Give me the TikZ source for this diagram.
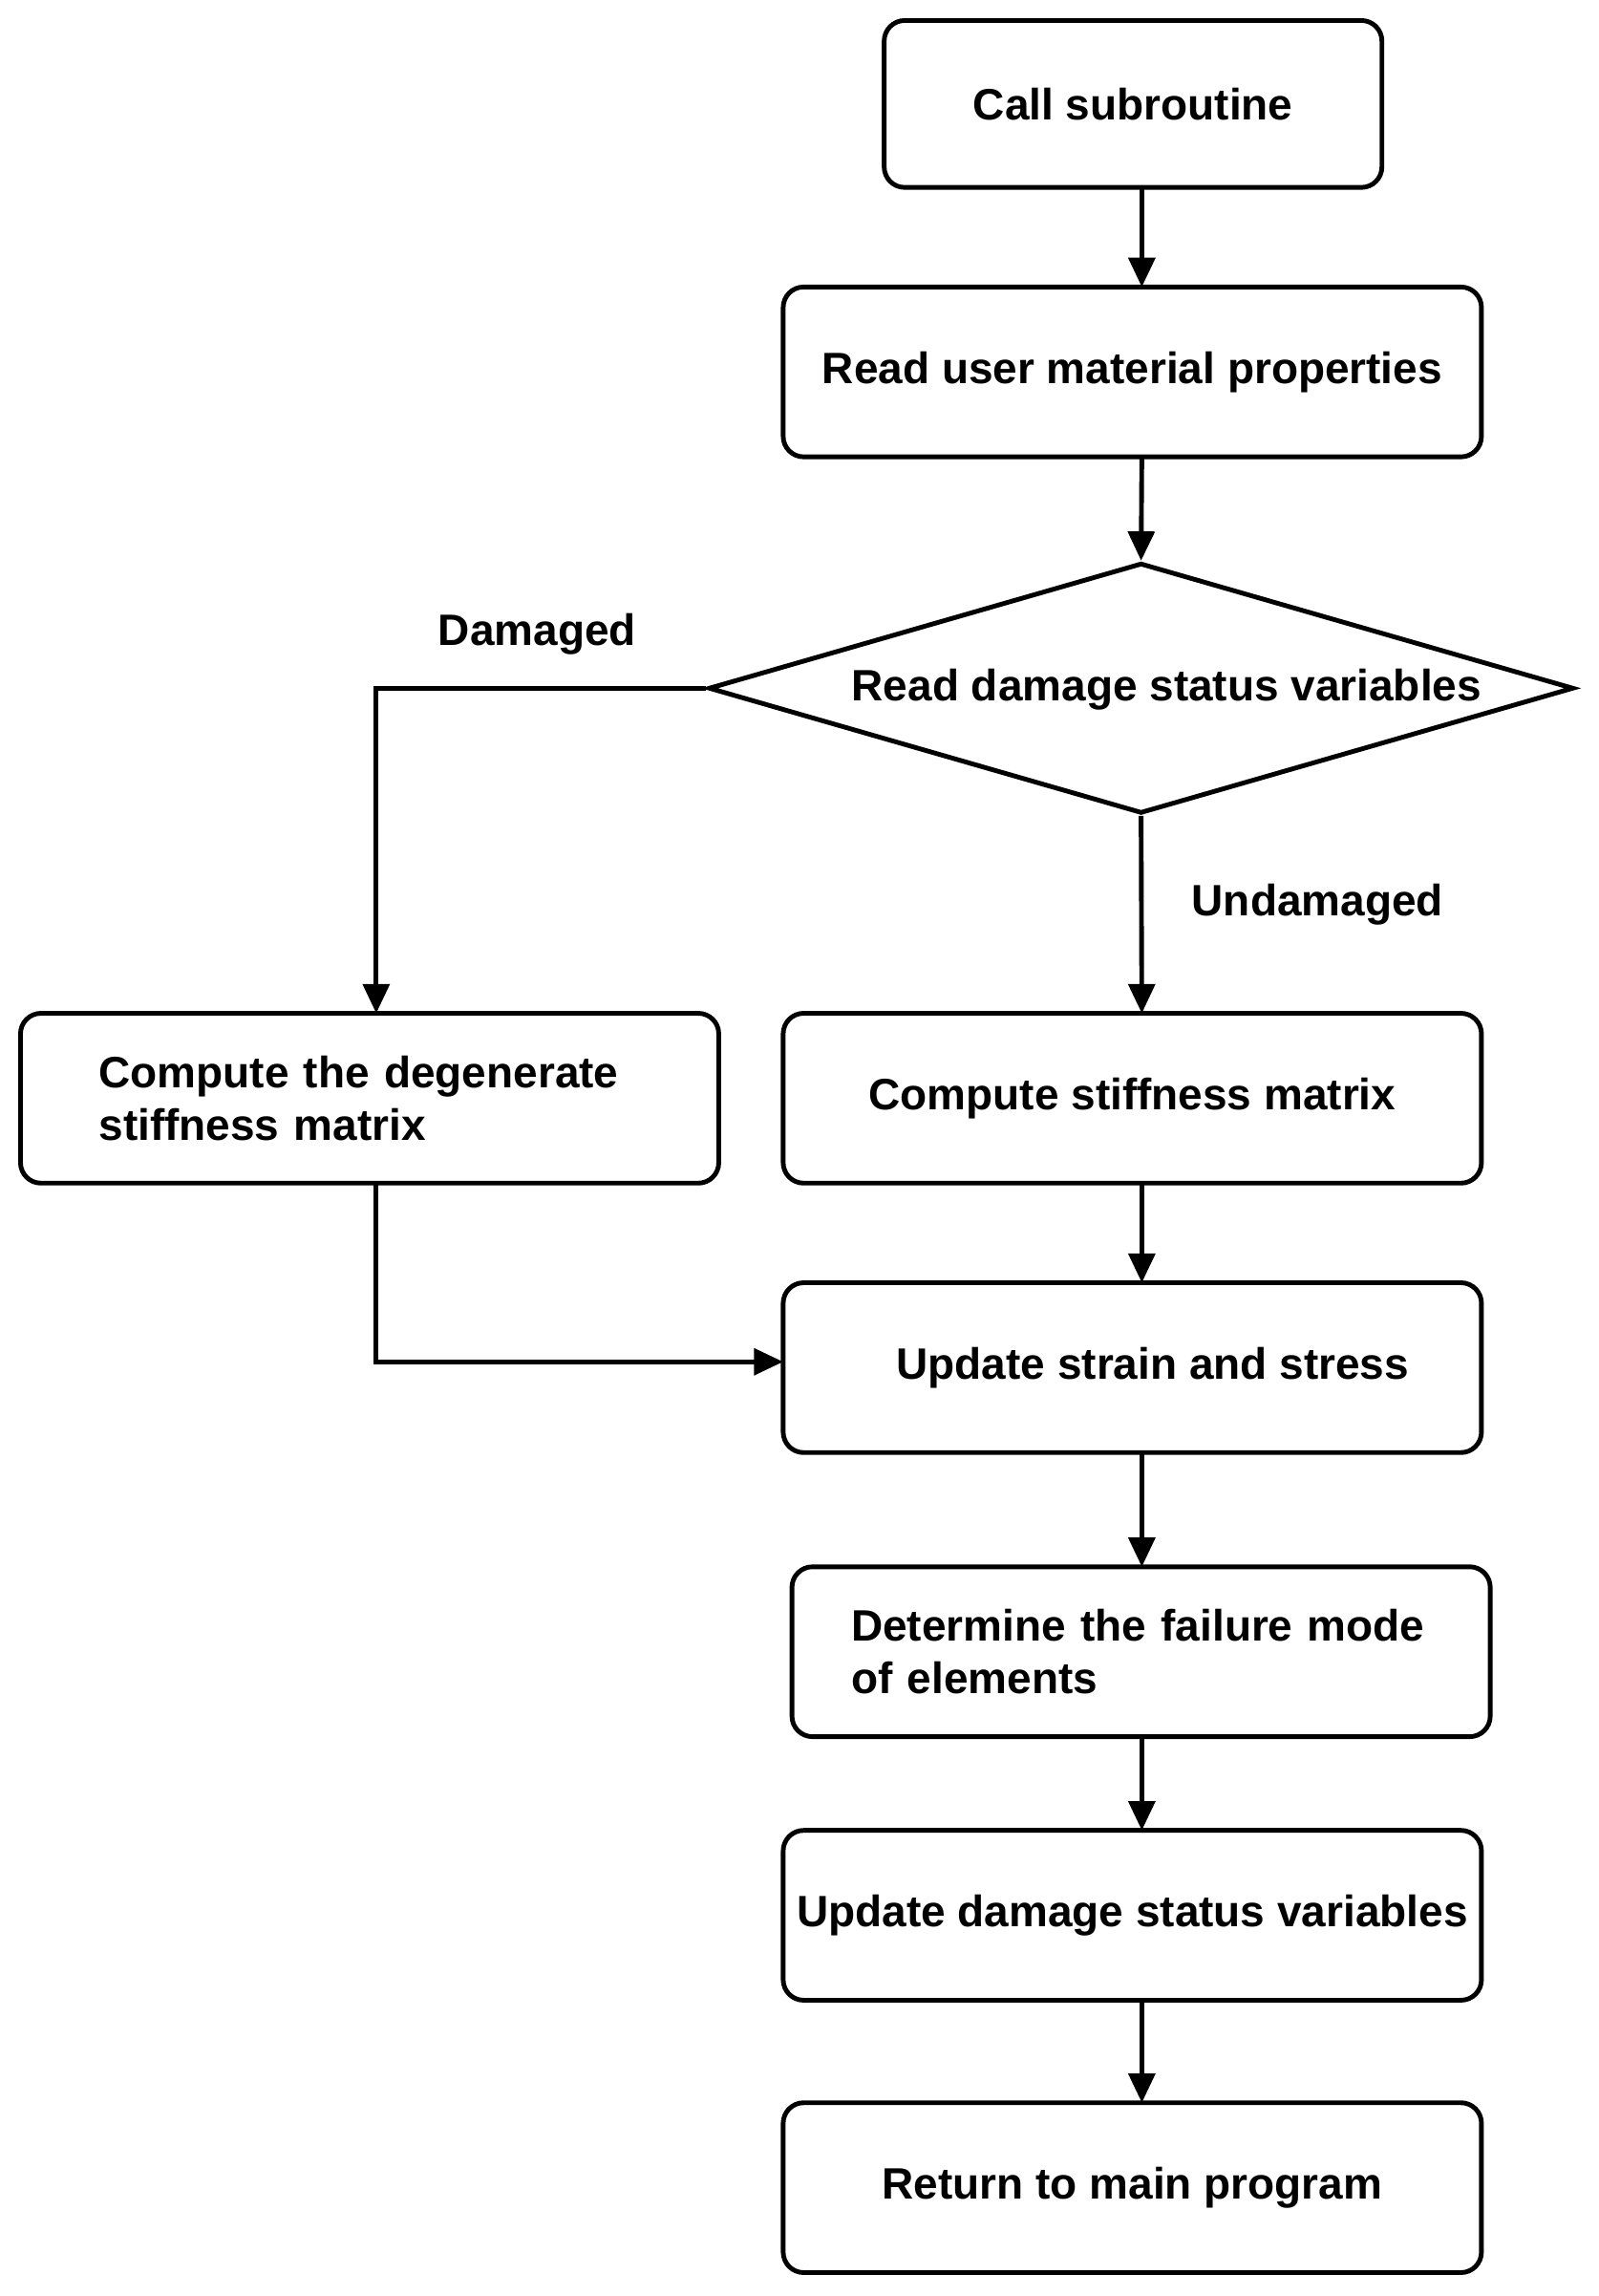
\documentclass[tikz,border=0pt]{standalone}
\usepackage{fontspec}
\setmainfont{Liberation Sans}
\usetikzlibrary{shapes.geometric,arrows.meta}
\begin{document}
\begin{tikzpicture}[x=1pt,y=-1pt,
  box/.style={draw,line width=3.2pt,rounded corners=14pt,font=\fontsize{30}{36}\selectfont\bfseries},
  arr/.style={line width=3.2pt,-{Triangle[length=20pt,width=18pt]}},
  lab/.style={font=\fontsize{30}{36}\selectfont\bfseries}]
\useasboundingbox (0,0) rectangle (1092,1568);
\node[box,minimum width=340pt,minimum height=114pt] (a) at (774,71) {Call subroutine};
\node[box,minimum width=477pt,minimum height=116pt,inner xsep=2pt] (b) at (773.5,254) {Read user material properties};
\node[draw,line width=3.2pt,diamond,aspect=3.45,minimum width=591pt,minimum height=171pt,inner sep=0pt] (c) at (779.5,470) {};
\node[lab] at (797,471) {Read damage status variables};
\node[box,minimum width=477pt,minimum height=116pt,align=left,text width=370pt] (d) at (252.5,750) {Compute the degenerate\\stiffness matrix};
\node[box,minimum width=477pt,minimum height=116pt] (e) at (773.5,750) {Compute stiffness matrix};
\node[box,minimum width=477pt,minimum height=116pt] (f) at (773.5,934) {\hspace*{28pt}Update strain and stress};
\node[box,minimum width=477pt,minimum height=116pt,align=left,text width=396pt] (g) at (779.5,1128) {Determine the failure mode\\of elements};
\node[box,minimum width=477pt,minimum height=116pt,inner xsep=0pt] (h) at (773.5,1308) {Update damage status variables};
\node[box,minimum width=477pt,minimum height=116pt] (i) at (773.5,1494) {Return to main program};
\coordinate (fw) at (535,930);
\draw[arr] (780,128) -- (780,196);
\draw[arr] (780,312) -- (c.north);
\draw[arr] (c.south) -- (780,692);
\draw[arr] (c.west) -- (257,470) -- (257,692);
\draw[arr] (780,808) -- (780,876);
\draw[arr] (257,808) -- (257,930) -- (fw);
\draw[arr] (780,992) -- (780,1070);
\draw[arr] (780,1186) -- (780,1250);
\draw[arr] (780,1366) -- (780,1436);
\node[lab] at (367,433) {Damaged};
\node[lab] at (900,618) {Undamaged};
\end{tikzpicture}
\end{document}
